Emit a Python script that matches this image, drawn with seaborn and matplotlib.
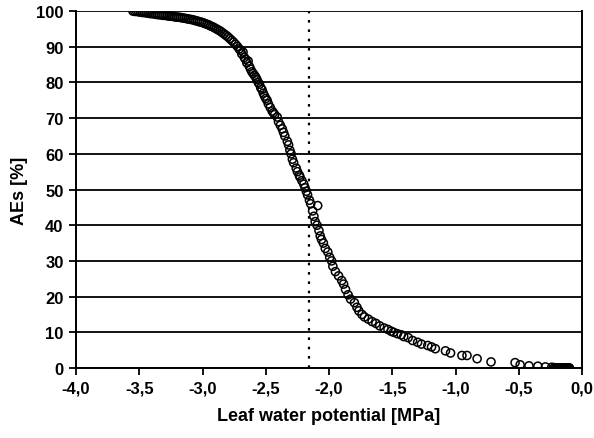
import matplotlib
matplotlib.use("Agg")
import matplotlib.pyplot as plt
import seaborn as sns
import pandas as pd
from matplotlib.ticker import FixedLocator, FixedFormatter

# ---- data ----
potential = [
    -3.55, -3.535, -3.52, -3.505, -3.49, -3.475, -3.46, -3.445, -3.43, -3.415,
    -3.40, -3.385, -3.37, -3.355, -3.34, -3.325, -3.31, -3.295, -3.28, -3.265,
    -3.25, -3.235, -3.22, -3.205, -3.19, -3.175, -3.16, -3.145, -3.13, -3.115,
    -3.10, -3.085, -3.07, -3.055, -3.04, -3.025, -3.01, -2.995, -2.98, -2.965,
    -2.95, -2.935, -2.92, -2.905, -2.89, -2.875, -2.86, -2.845, -2.83, -2.815,
    -2.80, -2.785, -2.77, -2.755, -2.74, -2.725, -2.71,
    -2.70, -2.69, -2.68, -2.67, -2.66, -2.65, -2.64, -2.63, -2.62, -2.61,
    -2.60, -2.59, -2.58, -2.57, -2.56, -2.55, -2.54, -2.53, -2.52, -2.51,
    -2.50, -2.49, -2.48, -2.465, -2.45, -2.44, -2.43, -2.41, -2.40, -2.385,
    -2.37, -2.36, -2.35, -2.33, -2.32, -2.31, -2.30, -2.29, -2.28, -2.26,
    -2.25, -2.235, -2.23, -2.215, -2.20, -2.19, -2.18, -2.17, -2.155, -2.145,
    -2.09, -2.13, -2.12, -2.11, -2.095, -2.08, -2.07, -2.06, -2.045, -2.03,
    -2.01, -1.995, -1.98, -1.97, -1.95, -1.925, -1.90, -1.885, -1.87, -1.85,
    -1.83, -1.80, -1.78, -1.765, -1.74, -1.72, -1.69, -1.66, -1.63, -1.60,
    -1.565, -1.535, -1.51, -1.49, -1.46, -1.43, -1.41, -1.375, -1.34, -1.30,
    -1.27, -1.22, -1.19, -1.16, -1.08, -1.04, -0.95, -0.91, -0.83, -0.72,
    -0.53, -0.49, -0.42, -0.35, -0.29, -0.24, -0.22,
    -0.21, -0.20, -0.195, -0.19, -0.185, -0.18, -0.175, -0.17, -0.165, -0.16,
    -0.155, -0.15, -0.145, -0.14, -0.135, -0.13, -0.125, -0.12, -0.115, -0.11,
    -0.105, -0.10,
]
aes = [
    100.0, 99.9, 99.9, 99.8, 99.7, 99.6, 99.6, 99.5, 99.4, 99.3,
    99.3, 99.2, 99.1, 99.0, 99.0, 98.9, 98.8, 98.8, 98.7, 98.6,
    98.6, 98.5, 98.4, 98.3, 98.3, 98.2, 98.1, 98.0, 97.9, 97.8,
    97.7, 97.6, 97.5, 97.3, 97.2, 97.0, 96.9, 96.7, 96.5, 96.3,
    96.1, 95.8, 95.6, 95.3, 95.0, 94.7, 94.4, 94.0, 93.6, 93.2,
    92.8, 92.3, 91.8, 91.3, 90.7, 90.1, 89.4,
    89.0, 88.0, 88.5, 87.0, 86.5, 85.5, 86.0, 84.5, 83.7, 83.0,
    82.5, 82.0, 81.5, 80.8, 80.0, 79.5, 78.5, 78.0, 77.0, 76.2,
    75.5, 75.0, 74.0, 73.0, 72.0, 71.5, 71.0, 70.3, 69.0, 68.0,
    67.0, 66.0, 65.0, 63.5, 62.5, 61.0, 60.0, 58.5, 57.5, 56.0,
    55.0, 54.0, 53.5, 52.5, 51.5, 50.5, 49.5, 48.5, 47.0, 46.0,
    45.5, 44.0, 42.5, 41.0, 40.0, 38.5, 37.0, 36.0, 35.0, 33.5,
    32.5, 31.0, 30.0, 28.5, 27.0, 25.8, 24.5, 23.5, 22.0, 20.5,
    19.3, 18.3, 17.0, 16.0, 15.0, 14.3, 13.7, 13.0, 12.5, 11.8,
    11.2, 10.8, 10.3, 10.0, 9.6, 9.3, 8.8, 8.5, 7.7, 7.2,
    6.7, 6.3, 5.9, 5.4, 4.8, 4.2, 3.5, 3.5, 2.6, 1.7,
    1.5, 0.9, 0.6, 0.5, 0.3, 0.2, 0.1,
    0.0, 0.0, 0.0, 0.0, 0.0, 0.0, 0.0, 0.0, 0.0, 0.0,
    0.0, 0.0, 0.0, 0.0, 0.0, 0.0, 0.0, 0.0, 0.0, 0.0,
    0.0, 0.0,
]
threshold = -2.16

x_ticks = [-4.0, -3.5, -3.0, -2.5, -2.0, -1.5, -1.0, -0.5, 0.0]
x_tick_labels = ["-4,0", "-3,5", "-3,0", "-2,5", "-2,0", "-1,5", "-1,0", "-0,5", "0,0"]
y_ticks = [0, 10, 20, 30, 40, 50, 60, 70, 80, 90, 100]
y_tick_labels = ["0", "10", "20", "30", "40", "50", "60", "70", "80", "90", "100"]

df = pd.DataFrame({"potential": potential, "aes": aes})

sns.set_style("white")
plt.rcParams["font.family"] = ["Liberation Sans", "DejaVu Sans"]
plt.rcParams["font.weight"] = "bold"
plt.rcParams["text.color"] = "black"
plt.rcParams["axes.labelcolor"] = "black"
plt.rcParams["xtick.color"] = "black"
plt.rcParams["ytick.color"] = "black"

fig = plt.figure(figsize=(5.94, 4.39), dpi=100)
ax = fig.add_axes([0.128, 0.1595, 0.852, 0.813])

for yv in y_ticks:
    ax.axhline(yv, color="black", linewidth=1.3, zorder=1)

ax.axvline(threshold, color="black", linestyle=(0, (1.2, 3.0)), linewidth=1.6, zorder=2)

sns.scatterplot(data=df, x="potential", y="aes", ax=ax, marker="o",
                s=34, facecolors="none", edgecolor="black", linewidth=1.1,
                zorder=3, legend=False)

ax.set_xlim(-4.0, 0.0)
ax.set_ylim(0, 100)
ax.xaxis.set_major_locator(FixedLocator(x_ticks))
ax.xaxis.set_major_formatter(FixedFormatter(x_tick_labels))
ax.yaxis.set_major_locator(FixedLocator(y_ticks))
ax.yaxis.set_major_formatter(FixedFormatter(y_tick_labels))

for side in ["left", "bottom", "right"]:
    ax.spines[side].set_visible(True)
    ax.spines[side].set_color("black")
    ax.spines[side].set_linewidth(1.4)
ax.spines["top"].set_visible(False)

ax.tick_params(axis="both", direction="out", length=5, width=1.3, color="black",
               labelcolor="black", labelsize=12, pad=4, bottom=True, left=True)
for lbl in ax.get_xticklabels() + ax.get_yticklabels():
    lbl.set_fontweight("bold")

ax.set_xlabel("Leaf water potential [MPa]", fontsize=13, fontweight="bold",
              labelpad=8, color="black")
ax.set_ylabel("AEs [%]", fontsize=13, fontweight="bold", labelpad=6, color="black")

fig.savefig("out.png", dpi=100)
